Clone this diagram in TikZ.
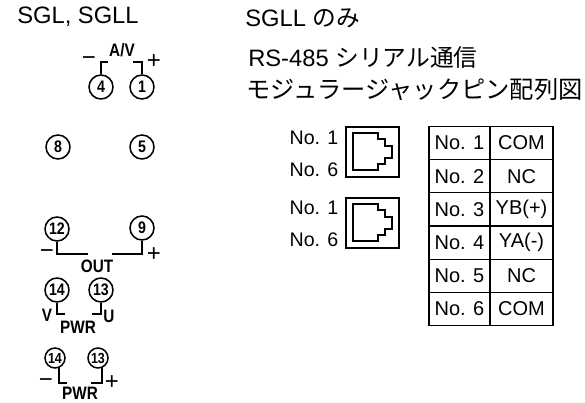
\documentclass[tikz,border=0pt]{standalone}
\usepackage{fontspec}
\setmainfont{Liberation Sans}
\newfontfamily\cjk{Noto Sans CJK JP}
\newfontfamily\cadfont[FakeStretch=0.85]{Liberation Sans}
\tikzset{
  termnode/.style={draw,circle,line width=1.15pt,minimum size=18pt,inner sep=0pt,font=\cadfont\bfseries\fontsize{12.5}{12.5}\selectfont},
  smallterm/.style={termnode,minimum size=15pt,font=\cadfont\bfseries\fontsize{11}{11}\selectfont},
  wire/.style={line width=1pt},
  marknode/.style={inner sep=0pt,font=\cadfont\bfseries\fontsize{13.5}{13.5}\selectfont},
  signnode/.style={inner sep=0pt,font=\fontsize{18}{18}\selectfont},
  plain/.style={inner sep=0pt,font=\fontsize{14.7}{16}\selectfont},
  headnode/.style={inner sep=0pt,anchor=west,font=\fontsize{17.8}{20}\selectfont},
  cellnode/.style={draw,line width=1pt,inner sep=0pt,minimum height=24.9pt,font=\fontsize{15}{16}\selectfont}
}
\begin{document}
\begin{tikzpicture}[x=0.75pt,y=-0.75pt]
    \useasboundingbox (0,0) rectangle (585,403);
    % Headers
    \node[headnode] (hleft) at (17,17) {SGL, SGLL};
    \node[headnode] (hright) at (245,18) {SGLL {\cjk のみ}};
    \node[headnode] (title1) at (248,58) {RS-485 {\cjk シリアル通信}};
    \node[headnode,font=\fontsize{18.2}{20}\selectfont] (title2) at (246,90) {\cjk モジュラージャックピン配列図};

    % Terminals
    \node[termnode] (t4) at (101,87) {4};
    \node[termnode] (t1) at (142,87) {1};
    \node[termnode] (t8) at (58,147) {8};
    \node[termnode] (t5) at (142,147) {5};
    \node[termnode] (t12) at (57,229) {12};
    \node[termnode] (t9) at (142,228) {9};
    \node[termnode] (t14a) at (57,290) {14};
    \node[termnode] (t13a) at (101,290) {13};
    \node[smallterm] (t14b) at (55,358) {14};
    \node[smallterm] (t13b) at (98,358) {13};

    % Wires
    \coordinate (w4) at (108,62);
    \coordinate (w1) at (133,62);
    \coordinate (w12) at (88,254);
    \coordinate (w9) at (112,254);
    \coordinate (w14a) at (65,314);
    \coordinate (w13a) at (92,314);
    \coordinate (s14b) at (59,367);
    \coordinate (s13b) at (102,367);
    \coordinate (w14b) at (67,383);
    \coordinate (w13b) at (91,383);
    \draw[wire] (t4) -- (t4 |- w4) -- (w4);
    \draw[wire] (t1) -- (t1 |- w1) -- (w1);
    \draw[wire] (t12) -- (t12 |- w12) -- (w12);
    \draw[wire] (t9) -- (t9 |- w9) -- (w9);
    \draw[wire] (t14a) -- (t14a |- w14a) -- (w14a);
    \draw[wire] (t13a) -- (t13a |- w13a) -- (w13a);
    \draw[wire] (s14b) -- (s14b |- w14b) -- (w14b);
    \draw[wire] (s13b) -- (s13b |- w13b) -- (w13b);

    % Marks
    \node[marknode] (av) at (122,50) {A/V};
    \node[marknode] (out) at (97,266) {OUT};
    \node[marknode] (pwra) at (78,327) {PWR};
    \node[marknode] (pwrb) at (80,393) {PWR};
    \node[marknode] (v) at (47,315) {V};
    \node[marknode] (u) at (109,316) {U};
    \node[signnode] (m1) at (89,61) {−};
    \node[signnode] (p1) at (154,62) {+};
    \node[signnode] (m2) at (47,254) {−};
    \node[signnode] (p2) at (154,255) {+};
    \node[signnode] (m3) at (46,383) {−};
    \node[signnode] (p3) at (112,383) {+};

    % Jacks
    \node[plain] (j1a) at (314,138) {No. 1};
    \node[plain] (j1b) at (314,170) {No. 6};
    \node[plain] (j2a) at (314,208) {No. 1};
    \node[plain] (j2b) at (314,240) {No. 6};
    \draw[line width=1.5pt] (346,127) rectangle (399,177);
    \draw[line width=1.5pt] (346,198) rectangle (399,248);
    \foreach \y in {0,71} {
      \draw[line width=1pt,yshift=-\y*0.75pt] (353,133) -- (378,133) -- (378,139) -- (385,139) -- (385,146) -- (392,146) -- (392,158) -- (385,158) -- (385,164) -- (378,164) -- (378,170) -- (353,170) -- cycle;
    }

    % Table
    \foreach \n/\s [count=\i from 0] in {1/COM,2/NC,3/YB(+),4/YA(-),5/NC,6/COM} {
      \node[cellnode,minimum width=45.75pt] (no\n) at (459.5,{143+33.2*\i}) {No. \n};
      \node[cellnode,minimum width=47.25pt] (sig\n) at (521.5,{143+33.2*\i}) {\s};
    }
\end{tikzpicture}
\end{document}
